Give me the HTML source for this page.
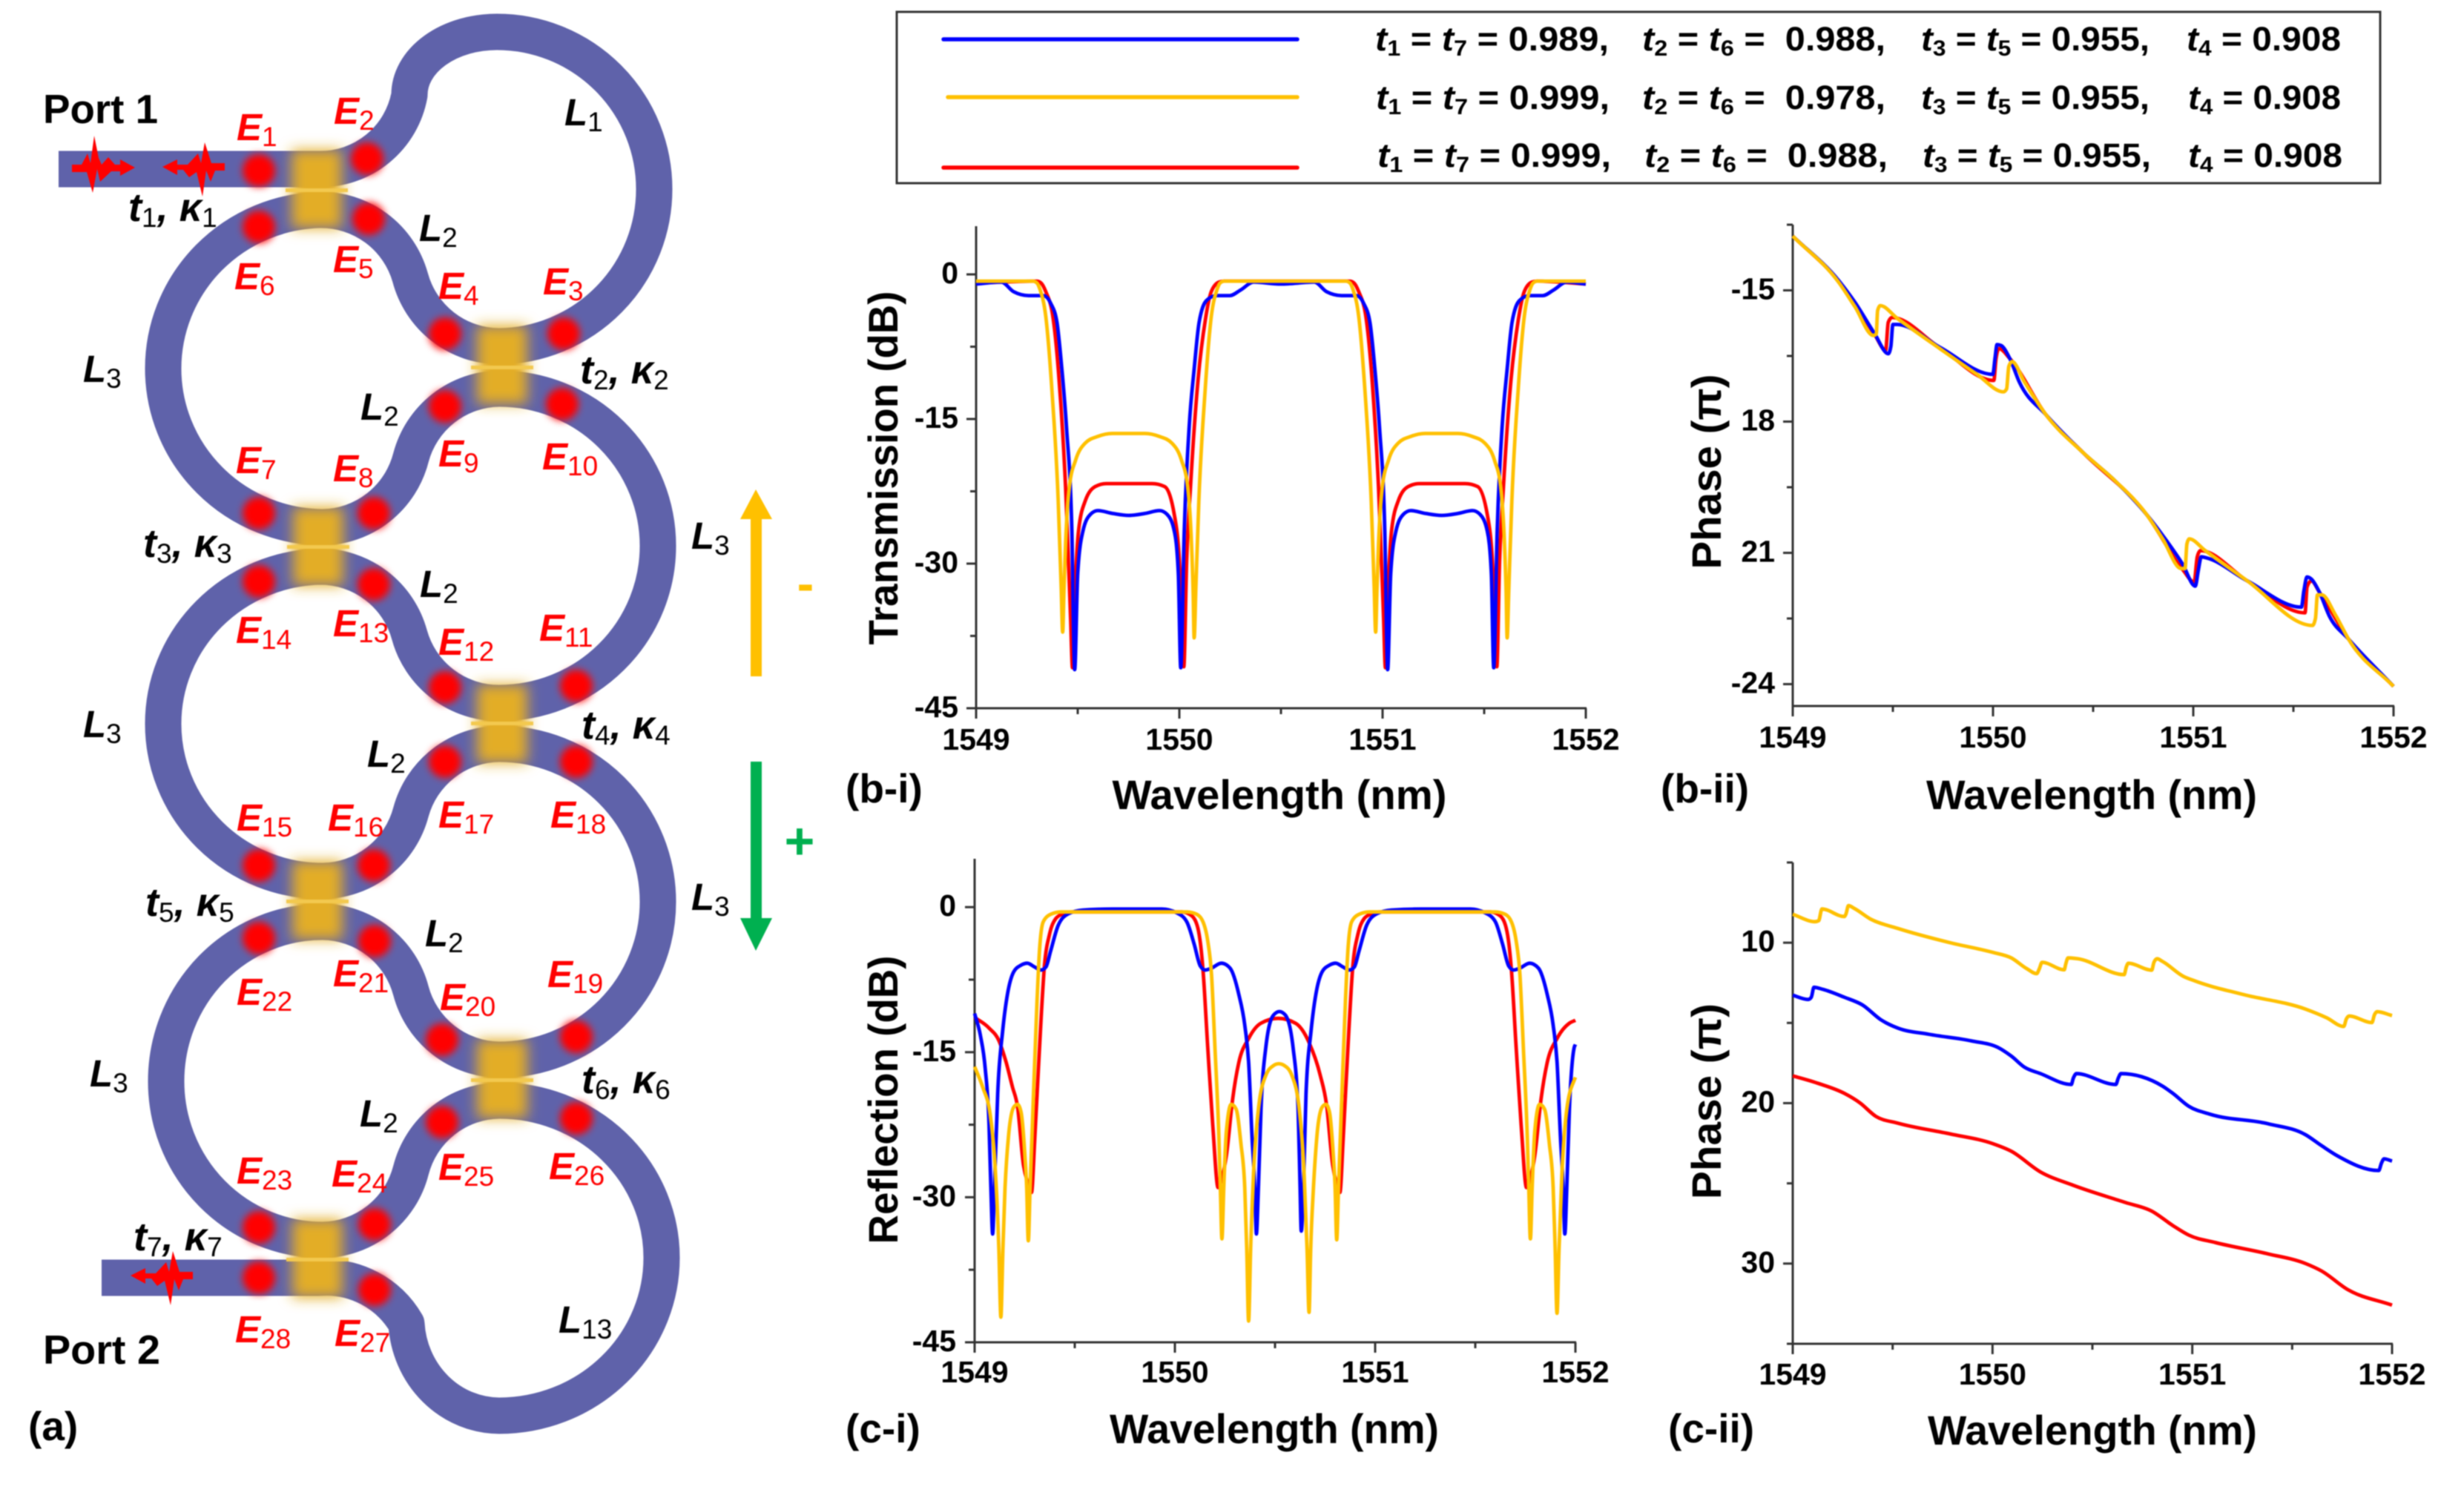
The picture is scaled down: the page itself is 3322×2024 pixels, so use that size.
<!DOCTYPE html>
<html lang="en">
<head>
<meta charset="utf-8">
<title>Coupled-resonator waveguide and spectra</title>
<style>
html,body{margin:0;padding:0;background:#fff}
svg{display:block;filter:blur(.7px)}
text{font-family:"Liberation Sans",sans-serif;font-weight:bold;fill:#000}
.e{fill:#f00;font-style:italic;font-size:51px}
.l{font-style:italic;font-size:51px}
.c{font-style:italic;font-size:54px}
.sub{font-style:normal;font-weight:normal;font-size:37px}
.port{font-size:55px}
.panel{font-size:55px}
.axt{font-size:56px}
.tick{font-size:41px}
.leg{font-size:45px}
.leg .i{font-style:italic}
.leg .lsub{font-size:30px}
</style>
</head>
<body>
<svg id="fig" xmlns="http://www.w3.org/2000/svg" width="3322" height="2024" viewBox="0 0 3322 2024">
<defs>
<filter id="goldBlur" x="-50%" y="-50%" width="200%" height="200%"><feGaussianBlur stdDeviation="9"/></filter>
<filter id="dotBlur" x="-50%" y="-50%" width="200%" height="200%"><feGaussianBlur stdDeviation="5"/></filter>
</defs>
<rect width="3322" height="2024" fill="#fff"/>

<g>
<path id="wg" fill="none" stroke="#5f62aa" stroke-width="49" stroke-linejoin="round" d="M79 228 L430 228 A122 122 0 0 0 552 128 A118 85 0 0 1 670 43 A212 212 0 0 1 882 255 A212 212 0 0 1 673 467
A125 125 0 0 1 553 374 A125 125 0 0 0 431 283
A217 214 0 0 0 220 497 A217 214 0 0 0 435 711
A125 125 0 0 0 554 617 A125 125 0 0 1 673 524
A214 212 0 0 1 887 736 A214 212 0 0 1 673 948
A125 125 0 0 1 552 856 A125 125 0 0 0 431 764
A217 212 0 0 0 220 976 A215 212 0 0 0 435 1188
A125 125 0 0 0 554 1095 A125 125 0 0 1 673 1003
A214 213 0 0 1 887 1216 A214 213 0 0 1 673 1429
A125 125 0 0 1 554 1336 A125 125 0 0 0 435 1243
A211 215 0 0 0 224 1458 A211 214 0 0 0 435 1672
A125 125 0 0 0 554 1578 A125 125 0 0 1 673 1484
A219 212 0 0 1 892 1696 A219 213 0 0 1 673 1909
A126 132 0 0 1 548 1785 A125 125 0 0 0 430 1723 L137 1723"/>

<g fill="#e3ad26" filter="url(#goldBlur)">
<rect x="393" y="202" width="68" height="106"/>
<rect x="643" y="439" width="68" height="106"/>
<rect x="395" y="684" width="68" height="106"/>
<rect x="643" y="923" width="68" height="106"/>
<rect x="394" y="1161" width="68" height="106"/>
<rect x="643" y="1402" width="68" height="106"/>
<rect x="394" y="1644" width="68" height="106"/>
</g>
<g fill="#f3c94f">
<rect x="385" y="254" width="84" height="5"/>
<rect x="635" y="493" width="84" height="5"/>
<rect x="387" y="735" width="84" height="5"/>
<rect x="635" y="973" width="84" height="5"/>
<rect x="386" y="1213" width="84" height="5"/>
<rect x="635" y="1454" width="84" height="5"/>
<rect x="386" y="1696" width="84" height="5"/>
</g>

<g fill="#f00" filter="url(#dotBlur)">
<circle cx="349" cy="230" r="22"/>
<circle cx="495" cy="214" r="22"/>
<circle cx="760" cy="450" r="22"/>
<circle cx="600" cy="450" r="22"/>
<circle cx="497" cy="295" r="22"/>
<circle cx="349" cy="306" r="22"/>
<circle cx="349" cy="692" r="22"/>
<circle cx="504" cy="692" r="22"/>
<circle cx="600" cy="548" r="22"/>
<circle cx="758" cy="545" r="22"/>
<circle cx="777" cy="925" r="22"/>
<circle cx="600" cy="927" r="22"/>
<circle cx="504" cy="788" r="22"/>
<circle cx="349" cy="784" r="22"/>
<circle cx="349" cy="1167" r="22"/>
<circle cx="504" cy="1167" r="22"/>
<circle cx="600" cy="1027" r="22"/>
<circle cx="777" cy="1027" r="22"/>
<circle cx="777" cy="1398" r="22"/>
<circle cx="596" cy="1402" r="22"/>
<circle cx="505" cy="1269" r="22"/>
<circle cx="349" cy="1265" r="22"/>
<circle cx="349" cy="1655" r="22"/>
<circle cx="505" cy="1651" r="22"/>
<circle cx="596" cy="1513" r="22"/>
<circle cx="777" cy="1508" r="22"/>
<circle cx="505" cy="1739" r="22"/>
<circle cx="349" cy="1723" r="22"/>
</g>

<g fill="#f00">
<polygon points="97,222 110,222 118,207 122,220 127,183 133,213 137,222 146,212 155,222 162,222 162,215 182,226 162,237 162,231 150,231 135,245 131,228 125,260 117,232 97,232"/>
<polygon id="pulseBack" points="219,225 239,215 239,222 253,222 267,207 271,220 276,192 285,220 303,220 303,230 290,230 284,245 278,230 273,265 265,232 255,239 247,229 239,229 239,236"/>
<polygon transform="translate(-43 1495)" points="219,225 239,215 239,222 253,222 267,207 271,220 276,192 285,220 303,220 303,230 290,230 284,245 278,230 273,265 265,232 255,239 247,229 239,229 239,236"/>
</g>

<text class="port" x="58" y="166" textLength="155" lengthAdjust="spacingAndGlyphs">Port 1</text>
<text class="port" x="58" y="1839" textLength="158" lengthAdjust="spacingAndGlyphs">Port 2</text>

<g>
<text class="e" x="319" y="189">E<tspan class="sub" dy="8" fill="#f00">1</tspan></text>
<text class="e" x="450" y="167">E<tspan class="sub" dy="8">2</tspan></text>
<text class="e" x="732" y="397">E<tspan class="sub" dy="8">3</tspan></text>
<text class="e" x="591" y="403">E<tspan class="sub" dy="8">4</tspan></text>
<text class="e" x="449" y="367">E<tspan class="sub" dy="8">5</tspan></text>
<text class="e" x="316" y="390">E<tspan class="sub" dy="8">6</tspan></text>
<text class="e" x="318" y="638">E<tspan class="sub" dy="8">7</tspan></text>
<text class="e" x="449" y="649">E<tspan class="sub" dy="8">8</tspan></text>
<text class="e" x="591" y="629">E<tspan class="sub" dy="8">9</tspan></text>
<text class="e" x="731" y="633">E<tspan class="sub" dy="8">10</tspan></text>
<text class="e" x="727" y="864">E<tspan class="sub" dy="8">11</tspan></text>
<text class="e" x="591" y="883">E<tspan class="sub" dy="8">12</tspan></text>
<text class="e" x="449" y="858">E<tspan class="sub" dy="8">13</tspan></text>
<text class="e" x="318" y="867">E<tspan class="sub" dy="8">14</tspan></text>
<text class="e" x="319" y="1120">E<tspan class="sub" dy="8">15</tspan></text>
<text class="e" x="442" y="1120">E<tspan class="sub" dy="8">16</tspan></text>
<text class="e" x="591" y="1116">E<tspan class="sub" dy="8">17</tspan></text>
<text class="e" x="742" y="1116">E<tspan class="sub" dy="8">18</tspan></text>
<text class="e" x="738" y="1331">E<tspan class="sub" dy="8">19</tspan></text>
<text class="e" x="593" y="1362">E<tspan class="sub" dy="8">20</tspan></text>
<text class="e" x="449" y="1330">E<tspan class="sub" dy="8">21</tspan></text>
<text class="e" x="319" y="1355">E<tspan class="sub" dy="8">22</tspan></text>
<text class="e" x="319" y="1596">E<tspan class="sub" dy="8">23</tspan></text>
<text class="e" x="447" y="1600">E<tspan class="sub" dy="8">24</tspan></text>
<text class="e" x="591" y="1591">E<tspan class="sub" dy="8">25</tspan></text>
<text class="e" x="740" y="1590">E<tspan class="sub" dy="8">26</tspan></text>
<text class="e" x="451" y="1815">E<tspan class="sub" dy="8">27</tspan></text>
<text class="e" x="317" y="1810">E<tspan class="sub" dy="8">28</tspan></text>
</g>

<g>
<text class="l" x="761" y="169">L<tspan class="sub" dy="8">1</tspan></text>
<text class="l" x="565" y="325">L<tspan class="sub" dy="8">2</tspan></text>
<text class="l" x="112" y="515">L<tspan class="sub" dy="8">3</tspan></text>
<text class="l" x="486" y="566">L<tspan class="sub" dy="8">2</tspan></text>
<text class="l" x="932" y="740">L<tspan class="sub" dy="8">3</tspan></text>
<text class="l" x="566" y="805">L<tspan class="sub" dy="8">2</tspan></text>
<text class="l" x="112" y="994">L<tspan class="sub" dy="8">3</tspan></text>
<text class="l" x="495" y="1034">L<tspan class="sub" dy="8">2</tspan></text>
<text class="l" x="932" y="1227">L<tspan class="sub" dy="8">3</tspan></text>
<text class="l" x="573" y="1276">L<tspan class="sub" dy="8">2</tspan></text>
<text class="l" x="121" y="1465">L<tspan class="sub" dy="8">3</tspan></text>
<text class="l" x="485" y="1519">L<tspan class="sub" dy="8">2</tspan></text>
<text class="l" x="753" y="1797">L<tspan class="sub" dy="8">13</tspan></text>
</g>

<g>
<text class="c" x="173" y="298">t<tspan class="sub" dy="8">1</tspan><tspan dy="-8">, κ</tspan><tspan class="sub" dy="8">1</tspan></text>
<text class="c" x="782" y="517">t<tspan class="sub" dy="8">2</tspan><tspan dy="-8">, κ</tspan><tspan class="sub" dy="8">2</tspan></text>
<text class="c" x="193" y="751">t<tspan class="sub" dy="8">3</tspan><tspan dy="-8">, κ</tspan><tspan class="sub" dy="8">3</tspan></text>
<text class="c" x="784" y="996">t<tspan class="sub" dy="8">4</tspan><tspan dy="-8">, κ</tspan><tspan class="sub" dy="8">4</tspan></text>
<text class="c" x="196" y="1235">t<tspan class="sub" dy="8">5</tspan><tspan dy="-8">, κ</tspan><tspan class="sub" dy="8">5</tspan></text>
<text class="c" x="784" y="1474">t<tspan class="sub" dy="8">6</tspan><tspan dy="-8">, κ</tspan><tspan class="sub" dy="8">6</tspan></text>
<text class="c" x="180" y="1686">t<tspan class="sub" dy="8">7</tspan><tspan dy="-8">, κ</tspan><tspan class="sub" dy="8">7</tspan></text>
</g>

<polygon fill="#ffc000" points="1012,912 1012,700 998,700 1019,660 1041,700 1027,700 1027,912"/>
<text x="1086" y="810" text-anchor="middle" style="font-size:68px;fill:#ffc000">-</text>
<polygon fill="#00b050" points="1012,1027 1027,1027 1027,1238 1041,1238 1019,1282 998,1238 1012,1238"/>
<text x="1078" y="1158" text-anchor="middle" style="font-size:70px;fill:#00b050">+</text>

<text class="panel" x="38" y="1942">(a)</text>
</g>

<g>
<rect x="1209" y="16" width="2000" height="231" fill="#fff" stroke="#333" stroke-width="3"/>
<line x1="1272" x2="1749" y1="53" y2="53" stroke="#0000ff" stroke-width="5.5" stroke-linecap="round"/>
<line x1="1278" x2="1749" y1="131" y2="131" stroke="#ffc000" stroke-width="5.5" stroke-linecap="round"/>
<line x1="1272" x2="1749" y1="226" y2="226" stroke="#ff0000" stroke-width="5.5" stroke-linecap="round"/>

<text class="leg" x="1854" y="68" textLength="315" lengthAdjust="spacingAndGlyphs"><tspan class="i">t</tspan><tspan class="lsub" dy="7">1</tspan><tspan dy="-7"> = </tspan><tspan class="i">t</tspan><tspan class="lsub" dy="7">7</tspan><tspan dy="-7"> = 0.989,</tspan></text>
<text class="leg" x="2214" y="68" textLength="328" lengthAdjust="spacingAndGlyphs"><tspan class="i">t</tspan><tspan class="lsub" dy="7">2</tspan><tspan dy="-7"> = </tspan><tspan class="i">t</tspan><tspan class="lsub" dy="7">6</tspan><tspan dy="-7"> =&#160; 0.988,</tspan></text>
<text class="leg" x="2590" y="68" textLength="308" lengthAdjust="spacingAndGlyphs"><tspan class="i">t</tspan><tspan class="lsub" dy="7">3</tspan><tspan dy="-7"> = </tspan><tspan class="i">t</tspan><tspan class="lsub" dy="7">5</tspan><tspan dy="-7"> = 0.955,</tspan></text>
<text class="leg" x="2948" y="68" textLength="208" lengthAdjust="spacingAndGlyphs"><tspan class="i">t</tspan><tspan class="lsub" dy="7">4</tspan><tspan dy="-7"> = 0.908</tspan></text>

<text class="leg" x="1855" y="147" textLength="315" lengthAdjust="spacingAndGlyphs"><tspan class="i">t</tspan><tspan class="lsub" dy="7">1</tspan><tspan dy="-7"> = </tspan><tspan class="i">t</tspan><tspan class="lsub" dy="7">7</tspan><tspan dy="-7"> = 0.999,</tspan></text>
<text class="leg" x="2214" y="147" textLength="328" lengthAdjust="spacingAndGlyphs"><tspan class="i">t</tspan><tspan class="lsub" dy="7">2</tspan><tspan dy="-7"> = </tspan><tspan class="i">t</tspan><tspan class="lsub" dy="7">6</tspan><tspan dy="-7"> =&#160; 0.978,</tspan></text>
<text class="leg" x="2590" y="147" textLength="308" lengthAdjust="spacingAndGlyphs"><tspan class="i">t</tspan><tspan class="lsub" dy="7">3</tspan><tspan dy="-7"> = </tspan><tspan class="i">t</tspan><tspan class="lsub" dy="7">5</tspan><tspan dy="-7"> = 0.955,</tspan></text>
<text class="leg" x="2950" y="147" textLength="206" lengthAdjust="spacingAndGlyphs"><tspan class="i">t</tspan><tspan class="lsub" dy="7">4</tspan><tspan dy="-7"> = 0.908</tspan></text>

<text class="leg" x="1857" y="225" textLength="315" lengthAdjust="spacingAndGlyphs"><tspan class="i">t</tspan><tspan class="lsub" dy="7">1</tspan><tspan dy="-7"> = </tspan><tspan class="i">t</tspan><tspan class="lsub" dy="7">7</tspan><tspan dy="-7"> = 0.999,</tspan></text>
<text class="leg" x="2217" y="225" textLength="328" lengthAdjust="spacingAndGlyphs"><tspan class="i">t</tspan><tspan class="lsub" dy="7">2</tspan><tspan dy="-7"> = </tspan><tspan class="i">t</tspan><tspan class="lsub" dy="7">6</tspan><tspan dy="-7"> =&#160; 0.988,</tspan></text>
<text class="leg" x="2592" y="225" textLength="308" lengthAdjust="spacingAndGlyphs"><tspan class="i">t</tspan><tspan class="lsub" dy="7">3</tspan><tspan dy="-7"> = </tspan><tspan class="i">t</tspan><tspan class="lsub" dy="7">5</tspan><tspan dy="-7"> = 0.955,</tspan></text>
<text class="leg" x="2950" y="225" textLength="208" lengthAdjust="spacingAndGlyphs"><tspan class="i">t</tspan><tspan class="lsub" dy="7">4</tspan><tspan dy="-7"> = 0.908</tspan></text>
</g>

<g id="chart-bi">
<text class="axt" transform="translate(1210 631) rotate(-90)" text-anchor="middle" textLength="477" lengthAdjust="spacingAndGlyphs">Transmission (dB)</text>
<text class="axt" x="1725" y="1091" text-anchor="middle" textLength="451" lengthAdjust="spacingAndGlyphs">Wavelength (nm)</text>
<text class="panel" x="1140" y="1082">(b-i)</text>
</g>
<g id="chart-bii">
<text class="axt" transform="translate(2320 636) rotate(-90)" text-anchor="middle" textLength="263" lengthAdjust="spacingAndGlyphs">Phase (π)</text>
<text class="axt" x="2820" y="1091" text-anchor="middle" textLength="446" lengthAdjust="spacingAndGlyphs">Wavelength (nm)</text>
<text class="panel" x="2239" y="1082">(b-ii)</text>
</g>
<g id="chart-ci">
<text class="axt" transform="translate(1210 1483) rotate(-90)" text-anchor="middle" textLength="389" lengthAdjust="spacingAndGlyphs">Reflection (dB)</text>
<text class="axt" x="1718" y="1946" text-anchor="middle" textLength="444" lengthAdjust="spacingAndGlyphs">Wavelength (nm)</text>
<text class="panel" x="1140" y="1945">(c-i)</text>
</g>
<g id="chart-cii">
<text class="axt" transform="translate(2320 1485) rotate(-90)" text-anchor="middle" textLength="264" lengthAdjust="spacingAndGlyphs">Phase (π)</text>
<text class="axt" x="2821" y="1948" text-anchor="middle" textLength="444" lengthAdjust="spacingAndGlyphs">Wavelength (nm)</text>
<text class="panel" x="2249" y="1945">(c-ii)</text>
</g>
</svg>

<script>
/* ---------- shared axis data ---------- */
const xTicks = [1549, 1550, 1551, 1552];
const xMinorTicks = [1549.5, 1550.5, 1551.5];

/* ---------- (b-i) transmission, dB ---------- */
const biTicks = [0, -15, -30, -45];
const biTickLabels = ['0', '-15', '-30', '-45'];
const biMinor = [-7.5, -22.5, -37.5];
const biRedWl = [1549,1549.3,1549.32,1549.343,1549.38,1549.41,1549.44,1549.465,1549.474,1549.487,1549.504,1549.537,1549.587,1549.641,1549.866,1549.927,1549.976,1550,1550.022,1550.036,1550.055,1550.09,1550.128,1550.157,1550.195,1550.22,
 1550.84,1550.86,1550.883,1550.92,1550.95,1550.98,1551.005,1551.014,1551.027,1551.044,1551.077,1551.127,1551.181,1551.406,1551.467,1551.516,1551.54,1551.562,1551.576,1551.595,1551.63,1551.668,1551.697,1551.735,1551.76,1552];
const biRedDb = [-0.9,-0.7,-0.9,-1.8,-4.7,-11.4,-22,-35.7,-40.8,-32.7,-26.6,-23.5,-22,-21.7,-21.7,-22,-25,-29.6,-40.7,-29.6,-22,-11.4,-4.7,-1.8,-0.8,-0.7,
 -0.7,-0.9,-1.8,-4.7,-11.4,-22,-35.7,-40.8,-32.7,-26.6,-23.5,-22,-21.7,-21.7,-22,-25,-29.6,-40.7,-29.6,-22,-11.4,-4.7,-1.8,-0.8,-0.7,-1];
const biBlueWl = [1549,1549.124,1549.185,1549.258,1549.331,1549.367,1549.398,1549.422,1549.445,1549.471,1549.485,1549.5,1549.526,1549.562,1549.599,1549.672,1549.75,1549.83,1549.903,1549.94,1549.975,1549.995,1550.007,1550.024,1550.048,1550.073,1550.097,1550.134,1550.182,1550.248,1550.303,1550.365,1550.5,
 1550.664,1550.725,1550.798,1550.871,1550.907,1550.938,1550.962,1550.985,1551.011,1551.025,1551.04,1551.066,1551.102,1551.139,1551.212,1551.29,1551.37,1551.443,1551.48,1551.515,1551.535,1551.547,1551.564,1551.588,1551.613,1551.637,1551.674,1551.722,1551.788,1551.843,1551.905,1552];
const biBlueDb = [-1,-0.8,-1.8,-2.2,-2.2,-3,-5,-9.8,-15.9,-26.6,-41,-31,-26.6,-24.9,-24.5,-24.8,-25,-24.8,-24.5,-24.9,-26.6,-31,-40.8,-26.6,-15.9,-9.8,-5,-2.7,-2.2,-2.2,-1.6,-0.8,-1,
 -0.8,-1.8,-2.2,-2.2,-3,-5,-9.8,-15.9,-26.6,-41,-31,-26.6,-24.9,-24.5,-24.8,-25,-24.8,-24.5,-24.9,-26.6,-31,-40.8,-26.6,-15.9,-9.8,-5,-2.7,-2.2,-2.2,-1.6,-0.8,-1];
const biYellowWl = [1549,1549.28,1549.3,1549.315,1549.343,1549.373,1549.404,1549.419,1549.426,1549.432,1549.44,1549.459,1549.489,1549.537,1549.6,1549.67,1549.83,1549.9,1549.963,1550.011,1550.041,1550.06,1550.068,1550.073,1550.081,1550.096,1550.127,1550.157,1550.185,1550.2,1550.22,
 1550.82,1550.84,1550.855,1550.883,1550.913,1550.944,1550.959,1550.966,1550.972,1550.98,1550.999,1551.029,1551.077,1551.14,1551.21,1551.37,1551.44,1551.503,1551.551,1551.581,1551.6,1551.608,1551.613,1551.621,1551.636,1551.667,1551.697,1551.725,1551.74,1551.76,1552];
const biYellowDb = [-0.7,-0.7,-0.9,-1.6,-4.4,-12,-23.5,-32.7,-37.1,-33,-28,-22,-19.3,-17.5,-16.8,-16.5,-16.5,-16.8,-17.5,-19.3,-22,-28,-33,-37.7,-32.7,-23.5,-12,-4.4,-1.6,-0.9,-0.7,
 -0.7,-0.9,-1.6,-4.4,-12,-23.5,-32.7,-37.1,-33,-28,-22,-19.3,-17.5,-16.8,-16.5,-16.5,-16.8,-17.5,-19.3,-22,-28,-33,-37.7,-32.7,-23.5,-12,-4.4,-1.6,-0.9,-0.7,-0.7];

/* ---------- (b-ii) transmission phase, pi ---------- */
const biiTicks = [-15, -18, -21, -24];
const biiTickLabels = ['-15', '18', '21', '-24'];
const biiMinor = [-13.5, -16.5, -19.5, -22.5];
const biiRedWl = [1549,1549.23,1549.31,1549.41,1549.464,1549.477,1549.496,1549.734,1550.004,1550.015,1550.03,1550.084,1550.264,1550.45,1550.768,1550.95,1551.004,1551.02,1551.036,1551.27,1551.558,1551.568,1551.59,1551.63,1551.775,1552];
const biiRedPhase = [-13.76,-14.8,-15.3,-16.02,-16.37,-15.73,-15.62,-16.31,-17.06,-16.56,-16.33,-16.56,-17.84,-18.71,-20.13,-21.4,-21.67,-21.09,-20.95,-21.64,-22.37,-21.78,-21.64,-21.9,-22.97,-24.05];
const biiBlueWl = [1549,1549.23,1549.31,1549.41,1549.477,1549.49,1549.5,1549.522,1549.734,1549.999,1550.01,1550.02,1550.04,1550.084,1550.132,1550.264,1550.45,1550.609,1550.768,1550.847,1550.948,1551.01,1551.025,1551.04,1551.07,1551.27,1551.54,1551.552,1551.568,1551.59,1551.63,1551.68,1551.775,1552];
const biiBluePhase = [-13.76,-14.78,-15.27,-16,-16.45,-16.28,-15.78,-15.78,-16.3,-16.92,-16.55,-16.24,-16.26,-16.56,-17.1,-17.84,-18.71,-19.35,-20.13,-20.6,-21.27,-21.76,-21.4,-21.09,-21.12,-21.64,-22.24,-21.88,-21.55,-21.6,-21.9,-22.45,-22.97,-24.05];
const biiYellowWl = [1549,1549.23,1549.31,1549.403,1549.417,1549.424,1549.437,1549.522,1549.734,1549.92,1550.052,1550.068,1550.079,1550.095,1550.158,1550.264,1550.45,1550.609,1550.768,1550.847,1550.94,1550.959,1550.968,1550.98,1551.06,1551.27,1551.595,1551.61,1551.62,1551.642,1551.71,1551.775,1552];
const biiYellowPhase = [-13.76,-14.82,-15.37,-16.03,-16,-15.46,-15.35,-15.64,-16.33,-16.92,-17.32,-17.25,-16.74,-16.63,-17.1,-17.84,-18.71,-19.35,-20.13,-20.68,-21.36,-21.36,-20.8,-20.68,-20.95,-21.64,-22.66,-22.5,-21.96,-21.96,-22.42,-22.97,-24.05];

/* ---------- (c-i) reflection, dB ---------- */
const ciTicks = [0, -15, -30, -45];
const ciTickLabels = ['0', '-15', '-30', '-45'];
const ciMinor = [-7.5, -22.5, -37.5];
const ciRedWl = [1549,1549.072,1549.121,1549.158,1549.189,1549.214,1549.244,1549.265,1549.284,1549.3,1549.325,1549.349,1549.374,1549.405,1549.442,1549.49,
 1550.035,1550.084,1550.115,1550.14,1550.164,1550.189,1550.216,1550.235,1550.257,1550.288,1550.319,1550.368,1550.43,1550.516,
 1550.602,1550.67,1550.726,1550.757,1550.788,1550.806,1550.824,1550.84,1550.865,1550.889,1550.914,1550.945,1550.982,1551.03,
 1551.575,1551.624,1551.655,1551.68,1551.704,1551.729,1551.756,1551.775,1551.797,1551.828,1551.859,1551.908,1551.97,1552];
const ciRedDb = [-11.4,-12.5,-13.8,-16.1,-18.6,-20.6,-26.7,-28.5,-29.5,-24.1,-14.1,-6,-2.8,-1.2,-0.7,-0.5,
 -0.5,-0.9,-2.2,-6.4,-14.5,-22.5,-29,-28,-25.7,-19.9,-16.1,-13.6,-12,-11.5,
 -12,-14,-17.4,-20.4,-26.7,-28.5,-29.5,-24.1,-14.1,-6,-2.8,-1.2,-0.7,-0.5,
 -0.5,-0.9,-2.2,-6.4,-14.5,-22.5,-29,-28,-25.7,-19.9,-16.1,-13.6,-12,-11.7];
const ciBlueWl = [1549,1549.028,1549.053,1549.072,1549.081,1549.09,1549.099,1549.115,1549.14,1549.164,1549.195,1549.232,1549.263,1549.3,1549.331,1549.356,1549.38,1549.417,1549.467,1549.541,
 1549.689,1549.936,1550.01,1550.059,1550.096,1550.127,1550.152,1550.183,1550.232,1550.275,1550.319,1550.349,1550.368,1550.386,1550.399,1550.407,1550.417,1550.43,1550.454,1550.491,
 1550.522,1550.553,1550.59,1550.615,1550.625,1550.631,1550.642,1550.655,1550.68,1550.704,1550.735,1550.772,1550.803,1550.84,1550.871,1550.896,1550.92,1550.957,1551.007,1551.081,
 1551.229,1551.476,1551.55,1551.6,1551.636,1551.667,1551.692,1551.723,1551.772,1551.815,1551.859,1551.889,1551.908,1551.926,1551.939,1551.947,1551.957,1551.97,1551.994,1552];
const ciBlueDb = [-11,-13.2,-16.7,-22.5,-29,-33.8,-29,-19.3,-12.8,-9,-6.7,-6,-5.8,-6.2,-6.5,-6.2,-4.5,-1.9,-0.7,-0.3,
 -0.2,-0.2,-0.6,-1.5,-3.8,-6.1,-6.5,-6.3,-5.8,-6.3,-9,-12.2,-16,-24.1,-29,-33.8,-29,-20.9,-14.5,-11.2,
 -10.8,-11.2,-14.5,-20.9,-29,-33.5,-29,-19.3,-12.8,-9,-6.7,-6,-5.8,-6.2,-6.5,-6.2,-4.5,-1.9,-0.7,-0.3,
 -0.2,-0.2,-0.6,-1.5,-3.8,-6.1,-6.5,-6.3,-5.8,-6.3,-9,-12.2,-16,-24.1,-29,-33.8,-29,-20.9,-14.5,-14.2];
const ciYellowWl = [1549,1549.04,1549.078,1549.102,1549.121,1549.131,1549.141,1549.152,1549.17,1549.195,1549.214,1549.232,1549.251,1549.26,1549.268,1549.277,1549.294,1549.312,1549.325,1549.343,1549.38,1549.43,
 1550.06,1550.109,1550.14,1550.164,1550.183,1550.2,1550.22,1550.227,1550.235,1550.244,1550.257,1550.281,1550.306,1550.33,1550.349,1550.359,1550.368,1550.378,1550.393,1550.417,1550.454,1550.491,1550.519,
 1550.548,1550.584,1550.621,1550.645,1550.66,1550.67,1550.678,1550.692,1550.71,1550.735,1550.754,1550.772,1550.791,1550.8,1550.808,1550.817,1550.834,1550.852,1550.865,1550.883,1550.92,1550.97,
 1551.6,1551.649,1551.68,1551.704,1551.723,1551.74,1551.76,1551.767,1551.775,1551.784,1551.797,1551.821,1551.846,1551.87,1551.889,1551.899,1551.908,1551.918,1551.933,1551.957,1551.994,1552];
const ciYellowDb = [-16.5,-18.6,-21.5,-26.7,-35.4,-42.4,-35.4,-29,-23.5,-20.7,-20.4,-21.2,-25.7,-29,-34.5,-29,-19.3,-9.6,-4.1,-1.5,-0.74,-0.5,
 -0.5,-0.74,-1.5,-3.5,-7,-14.5,-24,-29,-34.3,-29,-23.2,-20.4,-20.9,-24.5,-29,-35.4,-42.8,-35.4,-27.4,-20.9,-17.4,-16.4,-16.2,
 -16.4,-17.4,-20.9,-27.4,-35.4,-41.9,-35.4,-29,-23.5,-20.7,-20.4,-21.2,-25.7,-29,-34.4,-29,-19.3,-9.6,-4.1,-1.5,-0.74,-0.5,
 -0.5,-0.74,-1.5,-3.5,-7,-14.5,-24,-29,-34.3,-29,-23.2,-20.4,-20.9,-24.5,-29,-35.4,-42,-35.4,-27.4,-20.9,-17.9,-17.6];

/* ---------- (c-ii) reflection phase, pi ---------- */
const ciiTicks = [10, 20, 30];
const ciiTickLabels = ['10', '20', '30'];
const ciiMinor = [5, 15, 25, 35];
const ciiRedWl = [1549,1549.125,1549.258,1549.337,1549.417,1549.523,1549.788,1550,1550.094,1550.24,1550.399,1550.664,1550.797,1550.903,1550.983,1551.116,1551.381,1551.567,1551.647,1551.779,1552];
const ciiRedPhase = [18.3,18.76,19.39,19.99,20.83,21.24,21.92,22.52,23,24.29,25.1,26.19,26.73,27.63,28.23,28.69,29.4,30,30.46,31.63,32.59];
const ciiBlueWl = [1549,1549.077,1549.093,1549.106,1549.151,1549.258,1549.35,1549.443,1549.523,1549.682,1549.895,1550.027,1550.094,1550.16,1550.24,1550.394,1550.405,1550.42,1550.617,1550.63,1550.643,1550.85,1550.903,1550.983,1551.089,1551.381,1551.567,1551.647,1551.726,1551.933,1551.947,1551.96,1552];
const ciiBluePhase = [13.27,13.54,13.4,12.78,12.91,13.4,13.89,14.82,15.31,15.71,16.12,16.53,17.07,17.76,18.16,18.84,18.43,18.16,18.84,18.43,18.16,18.93,19.39,20.2,20.69,21.29,21.97,22.65,23.28,24.2,23.74,23.47,23.61];
const ciiYellowWl = [1549,1549.111,1549.13,1549.146,1549.258,1549.266,1549.279,1549.31,1549.39,1549.523,1549.788,1550,1550.094,1550.173,1550.221,1550.234,1550.248,1550.359,1550.366,1550.378,1550.426,1550.659,1550.67,1550.68,1550.797,1550.808,1550.824,1550.85,1550.956,1551.01,1551.248,1551.567,1551.673,1551.758,1551.771,1551.785,1551.899,1551.912,1551.925,1552];
const ciiYellowPhase = [8.23,8.69,8.63,7.9,8.37,8.23,7.69,7.88,8.53,9.1,10,10.6,10.95,11.63,11.93,11.63,11.22,11.69,11.36,10.95,11,11.99,11.5,11.28,11.71,11.22,11,11.16,12.1,12.37,13.21,14.14,14.68,15.22,14.76,14.57,14.98,14.49,14.3,14.54];

const SVGNS = 'http://www.w3.org/2000/svg';

function mk(parent, tag, attrs, text) {
  const el = document.createElementNS(SVGNS, tag);
  for (const k in attrs) el.setAttribute(k, attrs[k]);
  if (text !== undefined) el.textContent = text;
  parent.appendChild(el);
  return el;
}
function linear(d0, d1, r0, r1) {
  return function (v) { return r0 + (v - d0) * (r1 - r0) / (d1 - d0); };
}
/* monotone cubic through the projected data points: no overshoot at dips and jumps */
function monotonePath(px, py) {
  const n = px.length;
  const h = [], m = [], t = [];
  for (let i = 0; i < n - 1; i++) {
    h[i] = px[i + 1] - px[i];
    m[i] = (py[i + 1] - py[i]) / h[i];
  }
  t[0] = m[0];
  t[n - 1] = m[n - 2];
  for (let i = 1; i < n - 1; i++) {
    const p = (m[i - 1] * h[i] + m[i] * h[i - 1]) / (h[i - 1] + h[i]);
    t[i] = (Math.sign(m[i - 1]) + Math.sign(m[i])) * Math.min(Math.abs(m[i - 1]), Math.abs(m[i]), 0.5 * Math.abs(p));
  }
  let d = 'M' + px[0].toFixed(1) + ' ' + py[0].toFixed(1);
  for (let i = 0; i < n - 1; i++) {
    const k = h[i] / 3;
    d += 'C' + (px[i] + k).toFixed(1) + ' ' + (py[i] + t[i] * k).toFixed(1) + ' ' +
      (px[i + 1] - k).toFixed(1) + ' ' + (py[i + 1] - t[i + 1] * k).toFixed(1) + ' ' +
      px[i + 1].toFixed(1) + ' ' + py[i + 1].toFixed(1);
  }
  return d;
}

function drawChart(p) {
  const g = document.getElementById(p.id);
  const X = linear(1549, 1552, p.left, p.right);
  const Y = linear(p.yTop, p.yBottom, p.top, p.bottom);
  const AXIS = '#333';

  let el = mk(g, 'line', {x1: p.left, x2: p.left, y1: p.top, y2: p.bottom + 1.5, stroke: AXIS, 'stroke-width': 3});
  
  
  el = mk(g, 'line', {x1: p.left - 1.5, x2: p.right + 1, y1: p.bottom, y2: p.bottom, stroke: AXIS, 'stroke-width': 3});
  
  

  p.yTicks.forEach(function (v, i) {
    const y = Y(v);
    const t = mk(g, 'line', {x1: p.left - 13, x2: p.left, y1: y, y2: y, stroke: AXIS, 'stroke-width': 3});
    
    
    const l = mk(g, 'text', {class: 'tick', x: p.yLabelX, y: y + 12, 'text-anchor': 'end'}, p.yLabels[i]);
    
    
  });
  p.yMinor.forEach(function (v) {
    const y = Y(v);
    const t = mk(g, 'line', {x1: p.left - 8, x2: p.left, y1: y, y2: y, stroke: AXIS, 'stroke-width': 3});
    
    
  });
  xTicks.forEach(function (v) {
    const x = X(v);
    const t = mk(g, 'line', {x1: x, x2: x, y1: p.bottom, y2: p.bottom + 14, stroke: AXIS, 'stroke-width': 3});
    
    
    const l = mk(g, 'text', {class: 'tick', x: x, y: p.xLabelY, 'text-anchor': 'middle'}, String(v));
    
    
  });
  xMinorTicks.forEach(function (v) {
    const x = X(v);
    const t = mk(g, 'line', {x1: x, x2: x, y1: p.bottom, y2: p.bottom + 8, stroke: AXIS, 'stroke-width': 3});
    
    
  });

  p.series.forEach(function (s) {
    const n = Math.min(s.wl.length, s.val.length);
    const px = [], py = [];
    for (let i = 0; i < n; i++) {
      px.push(X(s.wl[i]));
      py.push(Y(s.val[i]));
    }
    const line = mk(g, 'path', {d: monotonePath(px, py), fill: 'none', stroke: s.color, 'stroke-width': 4.8, 'stroke-linejoin': 'round'});
    
    
  });
}

const RED = '#ff0000', BLUE = '#0000ff', YELLOW = '#ffc000';

drawChart({id: 'chart-bi', left: 1316, right: 2138, top: 305, bottom: 955, yTop: 5, yBottom: -45,
  yTicks: biTicks, yLabels: biTickLabels, yMinor: biMinor, yLabelX: 1292, xLabelY: 1011,
  series: [
    {name: 'transmission-red-line', color: RED, wl: biRedWl, val: biRedDb},
    {name: 'transmission-blue-line', color: BLUE, wl: biBlueWl, val: biBlueDb},
    {name: 'transmission-yellow-line', color: YELLOW, wl: biYellowWl, val: biYellowDb}
  ]});
drawChart({id: 'chart-bii', left: 2417, right: 3227, top: 303, bottom: 952, yTop: -13.5, yBottom: -24.5,
  yTicks: biiTicks, yLabels: biiTickLabels, yMinor: biiMinor, yLabelX: 2393, xLabelY: 1008,
  series: [
    {name: 'transmission-phase-red-line', color: RED, wl: biiRedWl, val: biiRedPhase},
    {name: 'transmission-phase-blue-line', color: BLUE, wl: biiBlueWl, val: biiBluePhase},
    {name: 'transmission-phase-yellow-line', color: YELLOW, wl: biiYellowWl, val: biiYellowPhase}
  ]});
drawChart({id: 'chart-ci', left: 1314, right: 2124, top: 1158, bottom: 1810, yTop: 5, yBottom: -45,
  yTicks: ciTicks, yLabels: ciTickLabels, yMinor: ciMinor, yLabelX: 1289, xLabelY: 1864,
  series: [
    {name: 'reflection-red-line', color: RED, wl: ciRedWl, val: ciRedDb},
    {name: 'reflection-blue-line', color: BLUE, wl: ciBlueWl, val: ciBlueDb},
    {name: 'reflection-yellow-line', color: YELLOW, wl: ciYellowWl, val: ciYellowDb}
  ]});
drawChart({id: 'chart-cii', left: 2417, right: 3225, top: 1163, bottom: 1812, yTop: 5, yBottom: 35,
  yTicks: ciiTicks, yLabels: ciiTickLabels, yMinor: ciiMinor, yLabelX: 2393, xLabelY: 1867,
  series: [
    {name: 'reflection-phase-red-line', color: RED, wl: ciiRedWl, val: ciiRedPhase},
    {name: 'reflection-phase-blue-line', color: BLUE, wl: ciiBlueWl, val: ciiBluePhase},
    {name: 'reflection-phase-yellow-line', color: YELLOW, wl: ciiYellowWl, val: ciiYellowPhase}
  ]});
</script>
</body>
</html>
